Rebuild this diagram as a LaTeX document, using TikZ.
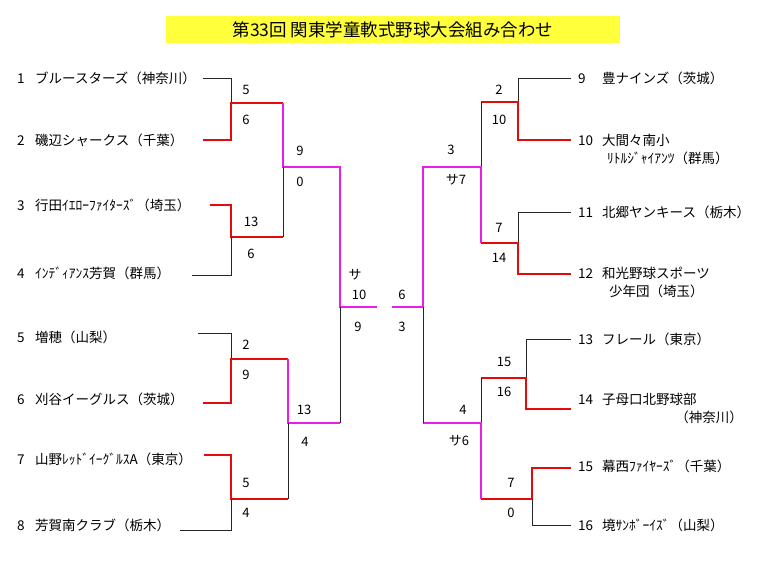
\documentclass[tikz,border=0pt]{standalone}
\usepackage{fontspec}
\setmainfont{Noto Sans CJK JP}
\definecolor{titleyellow}{RGB}{255,255,60}
\definecolor{winred}{RGB}{230,10,10}
\definecolor{winmag}{RGB}{230,30,230}
\begin{document}
\begin{tikzpicture}[x=1pt,y=-1pt,
  lbl/.style={anchor=west,inner sep=0pt,text height=11.5pt,text depth=1.5pt,font=\fontsize{13.5}{15}\selectfont},
  score/.style={inner sep=0pt,font=\fontsize{13}{15}\selectfont},
  lose/.style={draw=black!85,line width=0.8pt},
  win1/.style={draw=winred,line width=2.3pt},
  win2/.style={draw=winmag,line width=2.3pt}]
\useasboundingbox (0,0) rectangle (768,576);
\fill[white] (0,0) rectangle (768,576);
% title
\node[fill=titleyellow,minimum width=454pt,minimum height=27pt,inner sep=0pt,font=\fontsize{17.5}{19}\selectfont] (title) at (393,29.5) {第33回 関東学童軟式野球大会組み合わせ};
% left teams
\node[lbl] (n1) at (17,78) {\makebox[18pt][l]{1}ブルースターズ（神奈川）};
\node[lbl] (n2) at (17,140) {\makebox[18pt][l]{2}磯辺シャークス（千葉）};
\node[lbl] (n3) at (17,205) {\makebox[18pt][l]{3}行田ｲｴﾛｰﾌｧｲﾀｰｽﾞ（埼玉）};
\node[lbl] (n4) at (17,273) {\makebox[18pt][l]{4}ｲﾝﾃﾞｨｱﾝｽ芳賀（群馬）};
\node[lbl] (n5) at (17,337) {\makebox[18pt][l]{5}増穂（山梨）};
\node[lbl] (n6) at (17,399) {\makebox[18pt][l]{6}刈谷イーグルス（茨城）};
\node[lbl] (n7) at (17,459) {\makebox[18pt][l]{7}山野ﾚｯﾄﾞｲｰｸﾞﾙｽA（東京）};
\node[lbl] (n8) at (17,525) {\makebox[18pt][l]{8}芳賀南クラブ（栃木）};
% right teams
\node[lbl] (n9) at (578,78) {\makebox[24pt][l]{9}豊ナインズ（茨城）};
\node[lbl] (n10) at (578,140) {\makebox[24pt][l]{10}大間々南小};
\node[lbl] (n10b) at (607,158) {ﾘﾄﾙｼﾞｬｲｱﾝﾂ（群馬）};
\node[lbl] (n11) at (578,212) {\makebox[24pt][l]{11}北郷ヤンキース（栃木）};
\node[lbl] (n12) at (578,273) {\makebox[24pt][l]{12}和光野球スポーツ};
\node[lbl] (n12b) at (609,291) {少年団（埼玉）};
\node[lbl] (n13) at (578,339) {\makebox[24pt][l]{13}フレール（東京）};
\node[lbl] (n14) at (578,399) {\makebox[24pt][l]{14}子母口北野球部};
\node[lbl,anchor=east] (n14b) at (743,417) {（神奈川）};
\node[lbl] (n15) at (578,466) {\makebox[24pt][l]{15}幕西ﾌｧｲﾔｰｽﾞ（千葉）};
\node[lbl] (n16) at (578,525) {\makebox[24pt][l]{16}境ｻﾝﾎﾞｰｲｽﾞ（山梨）};
% coordinates left
\coordinate (e1) at (203,78);  \coordinate (e2) at (203,140);
\coordinate (e3) at (210,205); \coordinate (e4) at (192,275);
\coordinate (e5) at (198,333); \coordinate (e6) at (203,403);
\coordinate (e7) at (204,455); \coordinate (e8) at (180,530);
\coordinate (m12) at (231,103); \coordinate (m34) at (231,237);
\coordinate (m56) at (231,359); \coordinate (m78) at (231,499);
\coordinate (q14) at (283,167); \coordinate (q58) at (288,423);
\coordinate (fL) at (340,307);  \coordinate (fLe) at (377,307);
% coordinates right
\coordinate (e9) at (571,78);   \coordinate (e10) at (571,140);
\coordinate (e11) at (571,212); \coordinate (e12) at (571,274);
\coordinate (e13) at (571,339); \coordinate (e14) at (571,409);
\coordinate (e15) at (571,468); \coordinate (e16) at (571,525);
\coordinate (m910) at (518,102); \coordinate (m1112) at (518,243);
\coordinate (m1314) at (526,378); \coordinate (m1516) at (532,499);
\coordinate (q912) at (481,167); \coordinate (q1316) at (481,423);
\coordinate (fR) at (423,307);  \coordinate (fRe) at (392,307);
% left bracket
\draw[lose] (e1) -| (m12);
\draw[win1] (e2) -| (m12) -- (m12 -| q14);
\draw[win2] (m12 -| q14) -- (q14) -| (fL) -- (fLe);
\draw[win1] (e3) -| (m34) -- (m34 -| q14);
\draw[lose] (m34 -| q14) -- (q14);
\draw[lose] (e4) -| (m34);
\draw[lose] (e5) -| (m56);
\draw[win1] (e6) -| (m56) -- (m56 -| q58);
\draw[win2] (m56 -| q58) -- (q58) -- (q58 -| fL);
\draw[lose] (q58 -| fL) -- (fL);
\draw[win1] (e7) -| (m78) -- (m78 -| q58);
\draw[lose] (m78 -| q58) -- (q58);
\draw[lose] (e8) -| (m78);
% right bracket
\draw[lose] (e9) -| (m910);
\draw[win1] (e10) -| (m910) -- (m910 -| q912);
\draw[lose] (m910 -| q912) -- (q912);
\draw[lose] (e11) -| (m1112);
\draw[win1] (e12) -| (m1112) -- (m1112 -| q912);
\draw[win2] (m1112 -| q912) -- (q912) -| (fR) -- (fRe);
\draw[lose] (e13) -| (m1314);
\draw[win1] (e14) -| (m1314) -- (m1314 -| q1316);
\draw[lose] (m1314 -| q1316) -- (q1316);
\draw[win1] (e15) -| (m1516) -- (m1516 -| q1316);
\draw[win2] (m1516 -| q1316) -- (q1316) -- (q1316 -| fR);
\draw[lose] (q1316 -| fR) -- (fR);
\draw[lose] (e16) -| (m1516);
% scores left
\node[score] (s1) at (246,90) {5};
\node[score] (s2) at (246,120) {6};
\node[score] (s3) at (300,151) {9};
\node[score] (s4) at (300,182) {0};
\node[score] (s5) at (251,222) {13};
\node[score] (s6) at (251,254) {6};
\node[score] (s7) at (246,345) {2};
\node[score] (s8) at (246,375) {9};
\node[score] (s9) at (304,410) {13};
\node[score] (s10) at (305,442) {4};
\node[score] (s11) at (246,483) {5};
\node[score] (s12) at (246,513) {4};
\node[score] (s13) at (355,275) {サ};
\node[score] (s14) at (359,295) {10};
\node[score] (s15) at (358,327) {9};
% scores right
\node[score] (s16) at (402,295) {6};
\node[score] (s17) at (402,327) {3};
\node[score] (s18) at (499,90) {2};
\node[score] (s19) at (499,120) {10};
\node[score] (s20) at (451,150) {3};
\node[score] (s21) at (456,180) {サ7};
\node[score] (s22) at (499,228) {7};
\node[score] (s23) at (499,258) {14};
\node[score] (s24) at (504,362) {15};
\node[score] (s25) at (504,392) {16};
\node[score] (s26) at (463,410) {4};
\node[score] (s27) at (459,441) {サ6};
\node[score] (s28) at (511,483) {7};
\node[score] (s29) at (511,513) {0};
\end{tikzpicture}
\end{document}
